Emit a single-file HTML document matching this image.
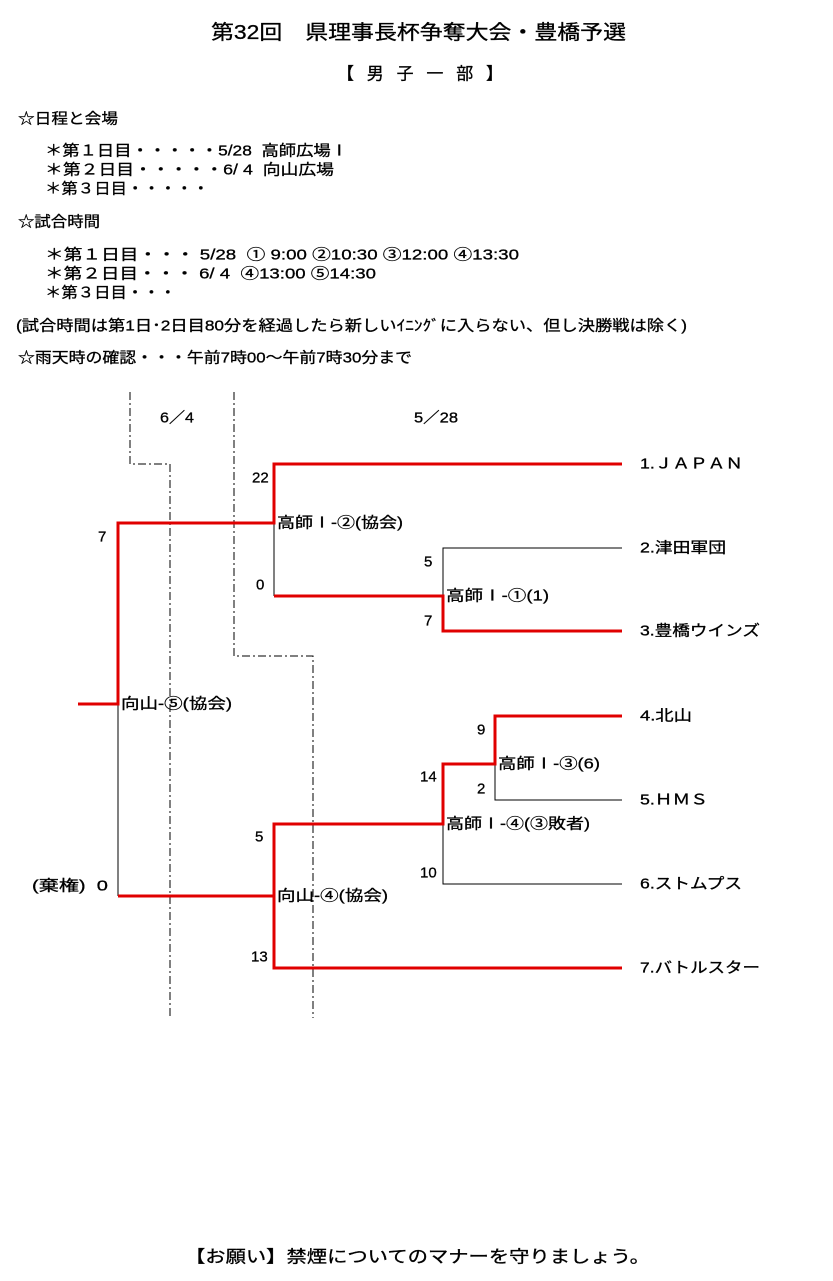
<!DOCTYPE html>
<html><head><meta charset="utf-8"><style>
html,body{margin:0;padding:0;background:#fff;}
svg{display:block}
text{font-family:"Liberation Sans","Noto Sans CJK JP",sans-serif;font-size:15px;fill:#000;dominant-baseline:central;white-space:pre;stroke:#000;stroke-width:0.3}
</style></head><body>
<svg width="833" height="1281" viewBox="0 0 833 1281" xmlns="http://www.w3.org/2000/svg" xml:space="preserve">
<text x="211" y="33" style="font-size:20px" textLength="415" lengthAdjust="spacingAndGlyphs">第32回　県理事長杯争奪大会・豊橋予選</text>
<text x="337" y="74" style="font-size:17px" textLength="166">【 男 子 一 部 】</text>
<text x="18" y="119" textLength="100" lengthAdjust="spacingAndGlyphs">☆日程と会場</text>
<text x="45" y="151" textLength="303" lengthAdjust="spacingAndGlyphs">＊第１日目・・・・・5/28  高師広場Ⅰ</text>
<text x="45" y="170" textLength="289" lengthAdjust="spacingAndGlyphs">＊第２日目・・・・・6/ 4  向山広場</text>
<text x="45" y="189" textLength="164" lengthAdjust="spacingAndGlyphs">＊第３日目・・・・・</text>
<text x="18" y="222" textLength="82" lengthAdjust="spacingAndGlyphs">☆試合時間</text>
<text x="45" y="255" textLength="474" lengthAdjust="spacingAndGlyphs">＊第１日目・・・ 5/28  ① 9:00 ②10:30 ③12:00 ④13:30</text>
<text x="45" y="274" textLength="331" lengthAdjust="spacingAndGlyphs">＊第２日目・・・ 6/ 4  ④13:00 ⑤14:30</text>
<text x="45" y="293" textLength="131" lengthAdjust="spacingAndGlyphs">＊第３日目・・・</text>
<text x="16" y="326" textLength="671" lengthAdjust="spacingAndGlyphs">(試合時間は第1日･2日目80分を経過したら新しいｲﾆﾝｸﾞに入らない、但し決勝戦は除く)</text>
<text x="18" y="358" textLength="394" lengthAdjust="spacingAndGlyphs">☆雨天時の確認・・・午前7時00～午前7時30分まで</text>

<g fill="none" stroke="#000" stroke-width="1" stroke-dasharray="8,3,2,3">
<path d="M130 392V464H170V1018"/>
<path d="M234 392V656H313V1018"/>
</g>
<text x="160" y="418" textLength="34" lengthAdjust="spacingAndGlyphs">6／4</text>
<text x="414" y="418" textLength="44" lengthAdjust="spacingAndGlyphs">5／28</text>

<g fill="none" stroke="#000" stroke-width="1">
<path d="M274 523V596"/>
<path d="M622 548H443V596"/>
<path d="M118 704V896"/>
<path d="M622 800H495V764"/>
<path d="M622 884H443V824"/>
</g>
<g fill="none" stroke="#e00000" stroke-width="3">
<path d="M622 464H274V523H118V704H78"/>
<path d="M274 596H443V631H622"/>
<path d="M622 716H495V764H443V824H274V896H118"/>
<path d="M274 896V968H622"/>
</g>

<text x="252" y="478">22</text>
<text x="277" y="523" textLength="126" lengthAdjust="spacingAndGlyphs">高師Ⅰ-②(協会)</text>
<text x="256" y="585">0</text>
<text x="98" y="537">7</text>
<text x="424" y="562">5</text>
<text x="446" y="596" textLength="103" lengthAdjust="spacingAndGlyphs">高師Ⅰ-①(1)</text>
<text x="424" y="621">7</text>
<text x="477" y="730">9</text>
<text x="498" y="764" textLength="102" lengthAdjust="spacingAndGlyphs">高師Ⅰ-③(6)</text>
<text x="477" y="789">2</text>
<text x="420" y="777">14</text>
<text x="446" y="824" textLength="144" lengthAdjust="spacingAndGlyphs">高師Ⅰ-④(③敗者)</text>
<text x="420" y="873">10</text>
<text x="121" y="704" textLength="111" lengthAdjust="spacingAndGlyphs">向山-⑤(協会)</text>
<text x="255" y="837">5</text>
<text x="277" y="896" textLength="111" lengthAdjust="spacingAndGlyphs">向山-④(協会)</text>
<text x="251" y="957">13</text>
<text x="32" y="886" textLength="76" lengthAdjust="spacingAndGlyphs">(棄権)  0</text>

<text x="640" y="464" textLength="103" lengthAdjust="spacingAndGlyphs">1.ＪＡＰＡＮ</text>
<text x="640" y="548" textLength="86" lengthAdjust="spacingAndGlyphs">2.津田軍団</text>
<text x="640" y="631" textLength="120" lengthAdjust="spacingAndGlyphs">3.豊橋ウインズ</text>
<text x="640" y="716" textLength="52" lengthAdjust="spacingAndGlyphs">4.北山</text>
<text x="640" y="800" textLength="68" lengthAdjust="spacingAndGlyphs">5.ＨＭＳ</text>
<text x="640" y="884" textLength="102" lengthAdjust="spacingAndGlyphs">6.ストムプス</text>
<text x="640" y="968" textLength="120" lengthAdjust="spacingAndGlyphs">7.バトルスター</text>

<text x="185" y="1257" style="font-size:17px" textLength="465" lengthAdjust="spacingAndGlyphs">【お願い】禁煙についてのマナーを守りましょう。</text>
</svg>
</body></html>
